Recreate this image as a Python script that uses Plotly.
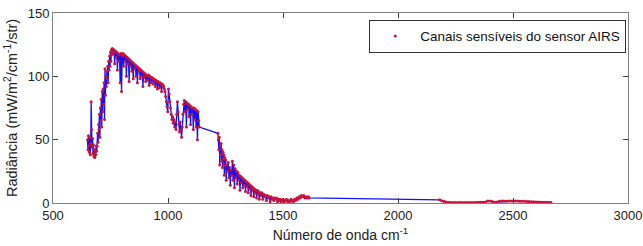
import plotly.graph_objects as go

# Wavenumber (cm^-1) and radiance (mW/m2/cm-1/str)
wn_lw = [650,652,654,656,658,660,662,664,666,668,670,672,674,676,678,680,682,684,686,688,690,
         692,694,696,698,700,702,704,706,708,710,712,714,716,718,720,722,724,726,728,730,732,734,736,738,740,742,744,746,748,750,752,754,756,758,760,
         762,765,768,771,774,777,780,783,786,789,792,795,798,801,804,807,810,813,816,819,822,825,828,831,834,837,840,843,846,849,852,855,858,861,864,867,870,873,876,879,882,885,888,891,894,897,900,903,906,909,912,915,918,921,924,927,930,933,936,939,942,945,948,951,954,957,960,963,966,969,972,975,978,981,984,987,990,993,996,999,
         1002,1005,1008,1011,1014,1017,1020,1023,1026,1029,1032,1035,1038,1041,1044,1047,1050,1053,1056,1059,1062,1065,1068,1071,1074,1077,1080,1083,1086,1089,1092,1095,1098,1101,1104,1107,1110,1113,1116,1119,1122,1125,1128,1131,1134,1136]
rad_lw = [50,42,53,45,40,52,38,47,80,58,44,51,39,46,37,42,36,40,38,45,41,
          45,55,48,62,58,70,52,75,65,82,60,88,72,90,78,95,66,106,85,100,92,104,98,108,95,112,105,116,108,119,112,121,117,122,119,
          118,121,110,120,115,119,105,118,112,117,95,118,88,116,118,108,117,112,116,100,115,110,114,96,113,108,112,104,111,98,110,106,109,100,108,95,107,104,106,98,105,100,104,92,103,99,102,96,101,97,100,101,93,100,99,95,99,98,94,98,97,92,97,96,90,96,95,91,95,94,88,94,93,92,90,88,84,80,76,72,
          90,86,80,75,70,66,68,63,66,60,64,58,70,80,72,62,56,64,58,52,60,70,78,81,72,80,60,79,74,78,68,77,62,76,70,75,58,75,66,74,60,73,50,72,65,60]

wn_mw = [1217,1219,1221,1223,1225,1227,1229,1231,1233,1235,1237,1239,1241,1243,1245,1247,1249,1251,1253,1256,1259,1262,1265,1268,1271,1274,1277,1280,1283,1286,1289,1292,1295,1298,1301,1304,1307,1310,1313,1316,1319,1322,1325,1328,1331,1334,1337,1340,1343,1346,1349,1352,1355,1358,1361,1364,1367,1370,1373,1376,1379,1382,1385,1388,1391,1394,1397,1400,1404,1408,1412,1416,1420,1424,1428,1432,1436,1440,1444,1448,1452,1456,1460,1464,1468,1472,1476,1480,1484,1488,1492,1496,1500,1505,1510,1515,1520,1525,1530,1535,1540,1545,1550,1555,1560,1565,1570,1575,1580,1585,1590,1595,1600,1605,1610,1613]
rad_mw = [55,50,42,52,30,45,38,47,33,42,28,40,35,38,22,36,30,34,18,30,25,32,20,28,14,26,22,33,18,30,12,27,20,25,15,24,18,22,10,21,16,20,12,19,14,18,9,17,13,16,8,15,11,14,6,13,10,12,5,11,8,10,4,10,7,9,3,8,6,8,3,7,5,6,2,6,4,5,1,5,3,4,2,4,3,4,1,3,2,3,1,2,3,1,2,3,1,2,1,3,2,1,3,2,4,3,5,4,6,5,6,4,5,4,5,4]

wn_sw = [2181,2190,2200,2210,2220,2230,2240,2250,2260,2270,2280,2290,2300,2310,2320,2330,2340,2350,2360,2370,2380,2390,2400,2410,2420,2430,2440,2450,2460,2470,2480,2490,2500,2510,2520,2530,2540,2550,2560,2570,2580,2590,2600,2610,2620,2630,2640,2650,2660,2665]
rad_sw = [2.5,1.8,1.2,0.8,0.5,0.4,0.3,0.3,0.3,0.3,0.3,0.3,0.3,0.3,0.4,0.4,0.4,0.5,0.5,0.6,0.8,1.6,1.5,1.2,0.6,0.7,1.4,1.5,1.5,1.4,1.5,1.6,1.5,1.6,1.5,1.4,1.4,1.3,1.2,1.1,1.0,0.9,0.8,0.7,0.6,0.6,0.5,0.5,0.4,0.4]

wavenumber = wn_lw + wn_mw + wn_sw
radiance = rad_lw + rad_mw + rad_sw

FONT = "Liberation Sans, Arial, sans-serif"

fig = go.Figure()
fig.add_trace(go.Scatter(x=wavenumber, y=radiance, mode="lines",
                         line=dict(color="#1010ff", width=1.3), showlegend=False,
                         hoverinfo="skip"))
fig.add_trace(go.Scatter(x=wavenumber, y=radiance, mode="markers",
                         marker=dict(color="#c8143c", size=3, line=dict(width=0)),
                         name="Canais sensíveis do sensor AIRS"))

axis_common = dict(showline=True, mirror="ticks", linecolor="#808080", linewidth=1,
                   ticks="inside", ticklen=5, tickcolor="#404040", showgrid=False,
                   zeroline=False, automargin=False,
                   tickfont=dict(family=FONT, size=13, color="#222"))
fig.update_xaxes(range=[500, 3000], tickvals=[500, 1000, 1500, 2000, 2500, 3000],
                 title=dict(text="Número de onda cm<sup>-1</sup>", standoff=8,
                            font=dict(family=FONT, size=14, color="#222")),
                 **axis_common)
fig.update_yaxes(range=[0, 150], tickvals=[0, 50, 100, 150],
                 title=dict(text="Radiância (mW/m<sup>2</sup>/cm<sup>-1</sup>/str)", standoff=6,
                            font=dict(family=FONT, size=14.5, color="#222")),
                 **axis_common)
fig.update_layout(width=643, height=246, margin=dict(l=53, r=15, t=13, b=43),
                  plot_bgcolor="white", paper_bgcolor="white",
                  legend=dict(x=0.997, y=0.965, xanchor="right", yanchor="top",
                              bordercolor="#303030", borderwidth=1, bgcolor="white",
                              font=dict(family=FONT, size=13.5, color="#111"),
                              itemsizing="trace", itemwidth=40))
fig.write_html("out.html", config={"displayModeBar": False},
               post_script="document.body.style.margin='0';document.body.style.padding='0';")
